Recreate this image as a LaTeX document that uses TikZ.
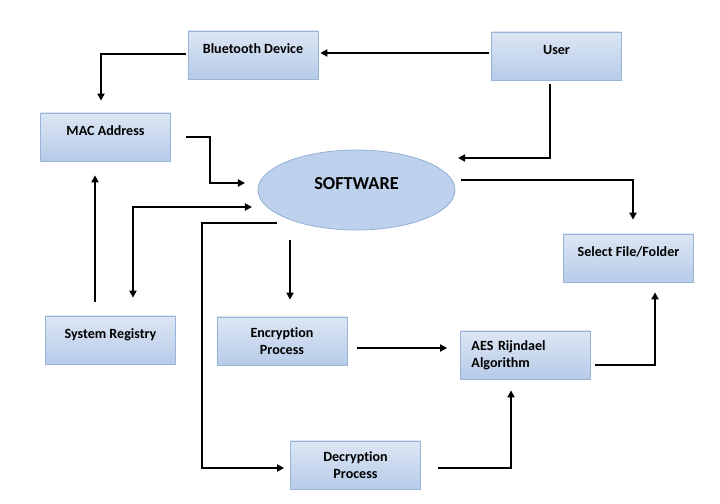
\documentclass[tikz,border=0pt]{standalone}
\usepackage{fontspec}
\setmainfont{Carlito}[Ligatures=NoCommon]
\usetikzlibrary{shapes.geometric,arrows.meta,calc}

\definecolor{SwBoxTop}{HTML}{DCE6F4}
\definecolor{SwBoxBottom}{HTML}{B7CBE8}
\definecolor{SwBoxLine}{HTML}{98B4D9}
\definecolor{SwEllFill}{HTML}{BDD1EC}
\definecolor{SwEllLine}{HTML}{8EAAD4}

\begin{document}
\begin{tikzpicture}[x=0.025cm,y=-0.025cm,
    block/.style={rectangle,draw=SwBoxLine,line width=0.5pt,top color=SwBoxTop,bottom color=SwBoxBottom,
      minimum width=3.25cm,minimum height=1.2cm,inner sep=0pt,align=center,font=\bfseries},
    topline/.style={inner ysep=8.6pt,text height=7pt,text depth=9.8pt},
    flow/.style={line width=1.4pt,-{Triangle[length=5pt,width=5pt]}},
    twoway/.style={line width=1.4pt,{Triangle[length=5pt,width=5pt]}-{Triangle[length=5pt,width=5pt]}}]
    \useasboundingbox (0,0) rectangle (720,504);
    % boxes
    \node[block,topline] (bt) at (253,55) {Bluetooth Device};
    \node[block,topline] (user) at (556.5,56) {User};
    \node[block,topline] (mac) at (105.5,137) {MAC Address};
    \node[block,topline] (sel) at (628.5,258) {Select File/Folder};
    \node[block,topline] (reg) at (110.5,340) {System Registry};
    \node[block] (enc) at (282,341) {Encryption\\Process};
    \node[block,align=left,text width=2.7cm,inner xsep=7.8pt] (aes) at (525.5,355) {AES Rijndael\\Algorithm};
    \node[block] (dec) at (355.5,465) {Decryption\\Process};
    \node[ellipse,draw=SwEllLine,line width=0.5pt,fill=SwEllFill,minimum width=4.925cm,minimum height=2cm,
      inner sep=0pt,text height=9pt,text depth=10.4pt,font=\bfseries\fontsize{13}{15}\selectfont] (soft) at (356.5,190) {SOFTWARE};
    % free ends around the ellipse
    \coordinate (softUser) at (458,158);
    \coordinate (softMac) at (245,183);
    \coordinate (softReg) at (252,207);
    \coordinate (softSel) at (461,180);
    \coordinate (softDec) at (277,223);
    \coordinate (softEnc) at (290,240);
    % connectors
    \draw[flow] ($(user.west)+(-2,-3)$) -- ($(bt.east)+(2,-2)$);
    \draw[flow] ($(bt.west)+(-2,-1)$) -| ($(mac.north)+(-4.5,-12)$);
    \draw[flow] ($(user.south)+(-6.5,4)$) |- (softUser);
    \draw[flow] ($(mac.east)+(15,0)$) -- ++(24,0) |- (softMac);
    \draw[flow] (softSel) -| ($(sel.north)+(4.5,-14)$);
    \draw[flow] ($(reg.north)+(-15.5,-14)$) -- ($(mac.south)+(-10.5,14)$);
    \draw[twoway] (softReg) -| ($(reg.north)+(22.5,-18)$);
    \draw[flow] (softDec) -- ++(-75,0) |- ($(dec.west)+(-6,3)$);
    \draw[flow] (softEnc) -- ($(enc.north)+(8,-17)$);
    \draw[flow] ($(enc.east)+(10,7)$) -- ($(aes.west)+(-13,-7)$);
    \draw[flow] ($(dec.east)+(17,3)$) -| ($(aes.south)+(-14.5,11)$);
    \draw[flow] ($(aes.east)+(4,10)$) -| ($(sel.south)+(26.5,10)$);
\end{tikzpicture}
\end{document}
